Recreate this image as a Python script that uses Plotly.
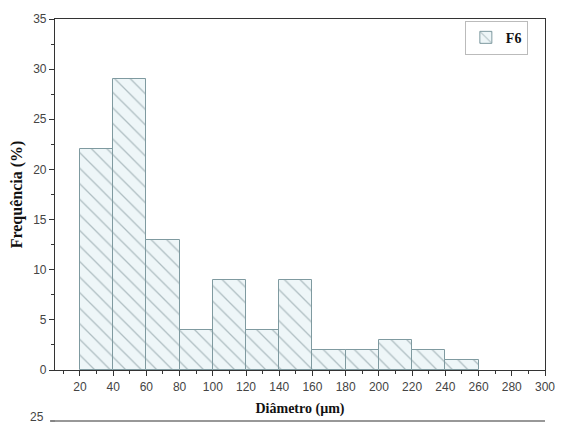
import plotly.graph_objects as go

# Histogram of particle diameters (sample F6)
bin_starts = [20, 40, 60, 80, 100, 120, 140, 160, 180, 200, 220, 240]
bin_width = 20
frequencies = [22, 29, 13, 4, 9, 4, 9, 2, 2, 3, 2, 1]
x_ticks = list(range(20, 301, 20))
y_ticks = list(range(0, 36, 5))

centers = [s + bin_width / 2 for s in bin_starts]

edge = "#7f9aa0"
fig = go.Figure()
fig.add_trace(go.Bar(
    x=centers, y=frequencies, width=bin_width, name="<b>F6</b>",
    marker=dict(
        color="#eef6f8",
        line=dict(color=edge, width=1),
        pattern=dict(shape="\\", fgcolor="#6f868b", bgcolor="#eef6f8",
                     size=11, solidity=0.12),
    ),
))

tick_font = dict(family="Liberation Sans, Arial", size=12, color="#444")
axis_common = dict(
    showline=True, linecolor="#333", linewidth=1.2, mirror=True,
    ticks="outside", ticklen=5, tickcolor="#333", showgrid=False, zeroline=False,
    tickfont=tick_font,
)

fig.update_xaxes(
    range=[5, 300], tickvals=x_ticks,
    minor=dict(ticks="outside", ticklen=3, dtick=10, tick0=0, tickcolor="#333"),
    title=dict(text="<b>Diâmetro (µm)</b>", standoff=10,
               font=dict(family="Liberation Serif, Times New Roman", size=14, color="#111")),
    **axis_common,
)
fig.update_yaxes(
    range=[0, 35], tickvals=y_ticks,
    minor=dict(ticks="outside", ticklen=3, dtick=2.5, tick0=0, tickcolor="#333"),
    title=dict(text="<b>Frequência (%)</b>", standoff=6,
               font=dict(family="Liberation Serif, Times New Roman", size=16, color="#111")),
    **axis_common,
)

# top edge of the next panel below
fig.add_shape(type="line", xref="paper", yref="paper", x0=0, x1=1,
              y0=-0.1453, y1=-0.1453, line=dict(color="#333", width=1.2))
fig.add_shape(type="line", xref="paper", yref="paper", x0=-0.01, x1=0,
              y0=-0.1453, y1=-0.1453, line=dict(color="#333", width=1.2))
fig.add_annotation(text="25", xref="paper", yref="paper", x=-0.018, y=-0.1453,
                   xanchor="right", yanchor="bottom", yshift=-5, showarrow=False,
                   font=tick_font)

fig.update_layout(
    width=567, height=425,
    margin=dict(l=55, r=18, t=12, b=55),
    paper_bgcolor="white", plot_bgcolor="white",
    showlegend=True,
    legend=dict(x=0.965, y=0.995, xanchor="right", yanchor="top",
                bordercolor="#bbb", borderwidth=1, bgcolor="white",
                font=dict(family="Liberation Serif, Times New Roman", size=14, color="#111"),
                itemwidth=30, tracegroupgap=0),
    bargap=0,
)

fig.write_html("out.html")
